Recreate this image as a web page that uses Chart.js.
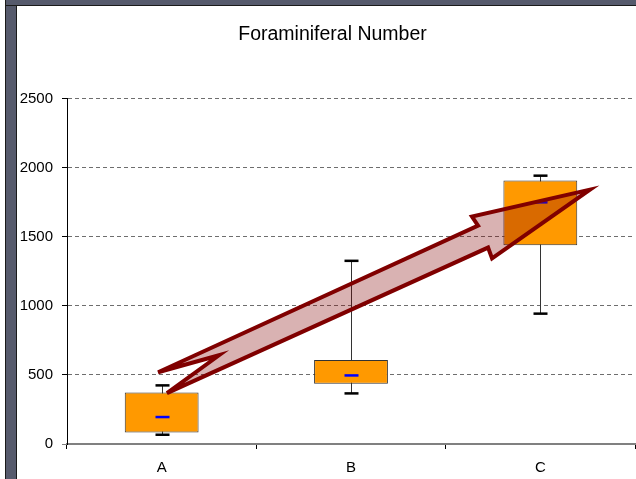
<!DOCTYPE html>
<html>
<head>
<meta charset="utf-8">
<title>Foraminiferal Number</title>
<script src="https://cdn.jsdelivr.net/npm/chart.js@4/dist/chart.umd.min.js"></script>
<style>
  html, body { margin: 0; padding: 0; background: #fff; }
  body { width: 636px; height: 479px; overflow: hidden; position: relative; }
  /* slide frame around the chart */
  .frame-left { position: absolute; left: 5px; top: 0; width: 10px; height: 479px; background: #565a6c; border-left: 1px solid #1a1a1a; border-right: 1px solid #1a1a1a; }
  .frame-top { position: absolute; left: 6px; top: 0; width: 630px; height: 5px; background: #565a6c; border-bottom: 1px solid #1a1a1a; }
  #chartBox { position: absolute; left: 17px; top: 6px; width: 619px; height: 473px; }
</style>
</head>
<body>
<div class="frame-left"></div>
<div class="frame-top"></div>
<div id="chartBox"><canvas id="foramChart"></canvas></div>
<script>
// Foraminiferal counts per site, summarised as box plots
const categories = ['A', 'B', 'C'];
const lowerWhisker = [67, 366, 943];
const lowerQuartile = [84, 435, 1438];
const medianValues = [195, 496, 1748];
const upperQuartile = [373, 608, 1907];
const upperWhisker = [424, 1325, 1941];
const yTicks = [0, 500, 1000, 1500, 2000, 2500];

// trend arrow outline as [category position, count] pairs
const trendArrow = [
    [-0.019, 519],
    [1.671, 1580],
    [1.639, 1645],
    [2.262, 1840],
    [1.745, 1342],
    [1.724, 1421],
    [0.028, 368],
    [0.303, 642]
];

const fontFamily = "'Liberation Sans', Arial, sans-serif";

// whiskers, caps, medians and the arrow on top
const boxPlotExtras = {
    id: 'boxPlotExtras',
    beforeDatasetsDraw(chart) {
        const { ctx, scales: { x, y } } = chart;
        ctx.save();
        ctx.strokeStyle = '#333';
        ctx.lineWidth = 1;
        categories.forEach((_, i) => {
            const cx = Math.round(x.getPixelForValue(i)) + 0.5;
            ctx.beginPath();
            ctx.moveTo(cx, y.getPixelForValue(upperWhisker[i]));
            ctx.lineTo(cx, y.getPixelForValue(lowerWhisker[i]));
            ctx.stroke();
        });
        ctx.restore();
    },
    afterDatasetsDraw(chart) {
        const { ctx, scales: { x, y } } = chart;
        const half = 7;
        const thick = 2.5;
        ctx.save();
        categories.forEach((_, i) => {
            const cx = Math.round(x.getPixelForValue(i)) + 0.5;
            ctx.fillStyle = '#000';
            [upperWhisker[i], lowerWhisker[i]].forEach(v => {
                const py = y.getPixelForValue(v);
                ctx.fillRect(cx - half, py - thick / 2, half * 2, thick);
            });
            ctx.fillStyle = '#0000ff';
            const my = y.getPixelForValue(medianValues[i]);
            ctx.fillRect(cx - half, my - thick / 2, half * 2, thick);
        });
        ctx.restore();
    },
    afterDraw(chart) {
        const { ctx, scales: { x, y } } = chart;
        ctx.save();
        ctx.beginPath();
        trendArrow.forEach(([pos, val], i) => {
            const px = x.getPixelForValue(pos);
            const py = y.getPixelForValue(val);
            if (i === 0) ctx.moveTo(px, py);
            else ctx.lineTo(px, py);
        });
        ctx.closePath();
        ctx.fillStyle = 'rgba(128, 0, 0, 0.3)';
        ctx.fill();
        ctx.lineJoin = 'miter';
        ctx.miterLimit = 6;
        ctx.strokeStyle = '#800000';
        ctx.lineWidth = 4;
        ctx.stroke();
        ctx.restore();
    }
};

new Chart(document.getElementById('foramChart'), {
    type: 'bar',
    data: {
        labels: categories,
        datasets: [{
            data: categories.map((_, i) => [lowerQuartile[i], upperQuartile[i]]),
            backgroundColor: '#ff9900',
            borderColor: '#333',
            borderWidth: 1,
            borderSkipped: false,
            barPercentage: 0.39,
            categoryPercentage: 1
        }]
    },
    options: {
        responsive: true,
        maintainAspectRatio: false,
        animation: false,
        layout: { padding: { left: 13, right: 1, top: 0, bottom: 0 } },
        plugins: {
            legend: { display: false },
            tooltip: { enabled: false },
            title: {
                display: true,
                text: 'Foraminiferal Number',
                color: '#000',
                font: { family: fontFamily, size: 19.5, weight: 'normal' },
                padding: { top: 17, bottom: 52 }
            }
        },
        scales: {
            x: {
                grid: {
                    offset: true,
                    drawOnChartArea: false,
                    tickLength: 5,
                    tickColor: '#000',
                    tickWidth: 1
                },
                border: { color: '#808080', width: 2 },
                ticks: {
                    color: '#000',
                    font: { family: fontFamily, size: 15 },
                    padding: 10,
                    maxRotation: 0
                },
                afterFit: s => { s.height = 35; }
            },
            y: {
                min: 0,
                max: 2500,
                afterBuildTicks: s => { s.ticks = yTicks.map(v => ({ value: v })); },
                grid: {
                    color: c => (c.tick && c.tick.value === 0) ? 'rgba(0,0,0,0)' : '#6e6e6e',
                    tickColor: c => (c.tick && c.tick.value === 0) ? '#808080' : '#000',
                    tickLength: 5,
                    lineWidth: 1
                },
                border: { color: '#000', width: 1, dash: [4, 3] },
                ticks: {
                    color: '#000',
                    font: { family: fontFamily, size: 15 },
                    padding: 9,
                    callback: v => String(v)
                },
                afterFit: s => {
                    s.width = 37;
                    // labels are wider than the narrowed axis box, so skip the clip
                    s._computeLabelArea = () => undefined;
                }
            }
        }
    },
    plugins: [boxPlotExtras]
});
</script>
</body>
</html>
